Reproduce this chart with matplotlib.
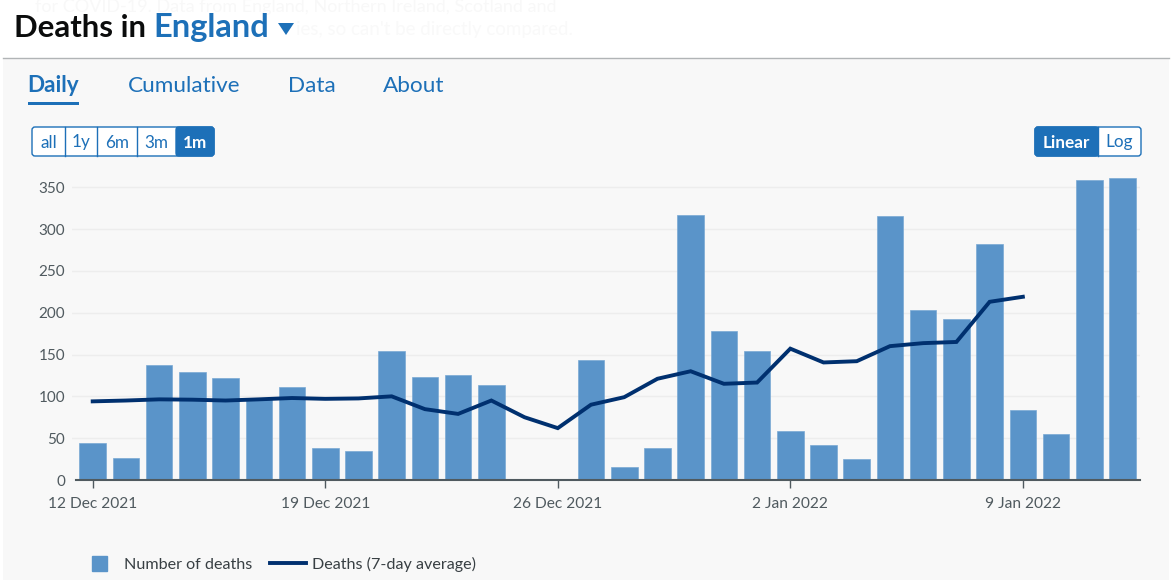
import pandas as pd
import matplotlib
matplotlib.use("Agg")
import matplotlib.pyplot as plt
import matplotlib.dates as mdates
from matplotlib.lines import Line2D
from matplotlib.patches import FancyBboxPatch, Polygon, Rectangle

plt.rcParams['font.family'] = ['Lato', 'DejaVu Sans']

# data
dates = pd.date_range("2021-12-12", "2022-01-12")
deaths = [44, 26, 138, 129, 122, 97, 111, 38, 35, 154, 123, 125, 114, 0, 0, 143,
          15, 38, 317, 178, 154, 59, 42, 25, 316, 203, 193, 282, 84, 55, 358, 361]
average = [94, 95, 96.4, 96, 95, 96.4, 98, 97, 97.5, 100, 84.7, 79, 95, 75, 62, 90,
           99, 121, 130, 115, 116.5, 157, 140.5, 142, 160, 163.6, 165, 213, 219]
yticks = [0, 50, 100, 150, 200, 250, 300, 350]
xticks = pd.to_datetime(["2021-12-12", "2021-12-19", "2021-12-26", "2022-01-02", "2022-01-09"])
tabs = ["Daily", "Cumulative", "Data", "About"]

BLUE = "#1d70b8"
GREY = "#505a5f"
W, H = 1171, 580

fig = plt.figure(figsize=(W / 100, H / 100), dpi=100, facecolor="white")

# page furniture, in pixel coordinates
page = fig.add_axes([0, 0, 1, 1])
page.set_xlim(0, W)
page.set_ylim(H, 0)
page.axis("off")
page.add_patch(Rectangle((3, 58), 1166, 522, fc="#f8f8f8", ec="none"))
page.plot([3, 1169], [57.5, 57.5], color="#b1b4b6", lw=1)

page.text(35, 7, "for COVID-19. Data from England, Northern Ireland, Scotland and",
          fontsize=13, color="#f8f8f8", va="center")
page.text(296, 30, "ies, so can't be directly compared.", fontsize=13.5, color="#f9f9f9", va="center")

page.text(14, 28, "Deaths in", fontsize=22.4, fontweight="bold", color="#0b0c0c", va="center")
page.text(153, 28, "England", fontsize=23.5, fontweight="bold", color=BLUE, va="center")
page.add_patch(Polygon([(278, 23), (294, 23), (286, 35)], fc=BLUE, ec="none"))

tab_x = [27, 128, 288, 383]
for name, x in zip(tabs, tab_x):
    page.text(x, 85.5, name, fontsize=16.2, color=BLUE, va="center",
              fontweight="bold" if name == "Daily" else "normal")
page.add_patch(Rectangle((28, 102), 51, 3, fc=BLUE, ec="none"))


def button_group(left, right, edges, labels, active):
    # rounded outline, then the filled button, then dividers and labels
    box = dict(boxstyle="round,pad=0,rounding_size=3", ec=BLUE, lw=1)
    page.add_patch(FancyBboxPatch((left, 127), right - left, 29, fc="white", **box))
    for i, label in enumerate(labels):
        x0, x1 = edges[i], edges[i + 1]
        on = i == active
        if on:
            page.add_patch(FancyBboxPatch((x0, 127), x1 - x0, 29, fc=BLUE, **box))
            if i == 0:
                page.add_patch(Rectangle((x1 - 5, 127), 5, 29, fc=BLUE, ec="none"))
            else:
                page.add_patch(Rectangle((x0, 127), 5, 29, fc=BLUE, ec="none"))
        elif i > 0:
            page.plot([x0, x0], [127, 156], color=BLUE, lw=1)
        page.text((x0 + x1) / 2, 142.5, label, fontsize=12.3, ha="center", va="center",
                  color="white" if on else BLUE, fontweight="bold" if on else "normal")


button_group(32, 214, [32, 65, 97, 137, 176, 214], ["all", "1y", "6m", "3m", "1m"], 4)
button_group(1035, 1141, [1035, 1098, 1141], ["Linear", "Log"], 0)

# chart, placed so 0 sits at y=480 and 350 at y=187
left, right, bottom, top = 72, 1140, 480, 170
ax = fig.add_axes([left / W, 1 - bottom / H, (right - left) / W, (bottom - top) / H])
ax.patch.set_visible(False)
day = 33.22
first = 92.7
start = mdates.date2num(dates[0])
ax.set_xlim(start - (first - left) / day, start + (right - first) / day)
ax.set_ylim(0, (bottom - top) / 0.8366)

ax.bar(dates, deaths, width=0.8, color="#5a94c9", edgecolor="#7aa9d4", linewidth=0.5, zorder=2)
ax.plot(dates[:len(average)], average, color="#00306f", lw=2.8, zorder=3, solid_joinstyle="miter")

ax.set_yticks(yticks)
ax.set_xticks(xticks)
ax.set_xticklabels([f"{d.day} {d:%b %Y}" for d in xticks])
ax.grid(axis="y", color="#ededed", lw=1, zorder=1)
ax.tick_params(axis="y", length=0, pad=5, labelsize=11, labelcolor=GREY)
ax.tick_params(axis="x", length=6, width=1, color=GREY, pad=6, labelsize=11.2, labelcolor=GREY)
for side in ["top", "right", "left"]:
    ax.spines[side].set_visible(False)
ax.spines["bottom"].set_color(GREY)
ax.spines["bottom"].set_linewidth(1.5)
ax.spines["bottom"].set_bounds(start - (first - 76) / day, start + (right - first) / day)

handles = [
    Line2D([], [], color="#5a94c9", marker="s", markersize=10.8, linestyle="none"),
    Line2D([], [], color="#00306f", lw=2.8),
]
fig.legend(handles, ["Number of deaths", "Deaths (7-day average)"], ncol=2, frameon=False,
           loc="center left", bbox_to_anchor=(81 / W, 1 - 564 / H), borderpad=0, borderaxespad=0,
           fontsize=11.6, labelcolor="#383f43", handlelength=2.25, handletextpad=0.4,
           columnspacing=1.1)

fig.savefig("out.png", dpi=100, facecolor=fig.get_facecolor())
